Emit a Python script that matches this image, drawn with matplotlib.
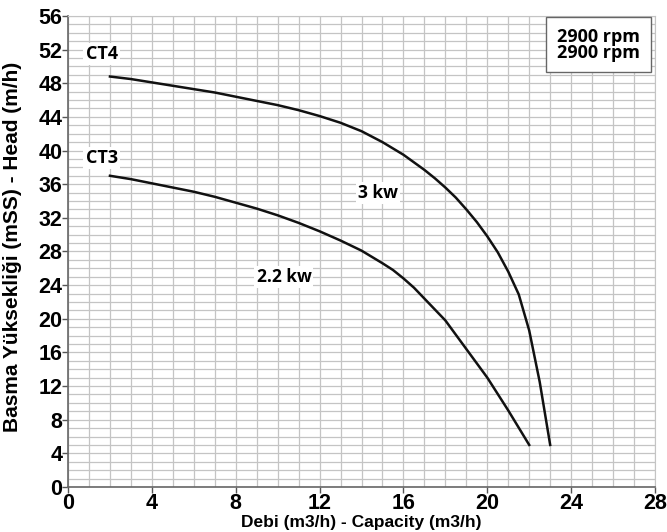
import matplotlib
matplotlib.use("Agg")
import matplotlib.pyplot as plt
from matplotlib.ticker import MultipleLocator

plt.rcParams['font.family'] = ['Liberation Sans', 'DejaVu Sans']

ct4_x = [2, 3, 4, 5, 6, 7, 8, 9, 10, 11, 12, 13, 14, 15, 16, 16.5, 17, 17.5, 18, 18.5, 19, 19.5,
         20, 20.5, 21, 21.5, 22, 22.5, 23]
ct4_y = [48.8, 48.5, 48.1, 47.7, 47.3, 46.9, 46.4, 45.9, 45.4, 44.8, 44.1, 43.3, 42.3, 41.0, 39.5,
         38.6, 37.7, 36.7, 35.6, 34.4, 33.0, 31.5, 29.8, 27.9, 25.6, 22.9, 18.6, 12.5, 5.0]
ct3_x = [2, 3, 4, 5, 6, 7, 8, 9, 10, 11, 12, 13, 14, 15, 15.5, 16, 16.5, 17, 17.5, 18, 19, 20, 21, 22]
ct3_y = [37.0, 36.6, 36.1, 35.6, 35.1, 34.5, 33.8, 33.1, 32.3, 31.4, 30.4, 29.3, 28.1, 26.6, 25.8,
         24.8, 23.7, 22.4, 21.1, 19.8, 16.4, 13.0, 9.1, 5.0]

x_ticks = [0, 4, 8, 12, 16, 20, 24, 28]
y_ticks = [0, 4, 8, 12, 16, 20, 24, 28, 32, 36, 40, 44, 48, 52, 56]

fig = plt.figure(figsize=(6.67, 5.32), dpi=100)
ax = fig.add_axes([0.102, 0.0846, 0.880, 0.8854])

ax.set_xlim(0, 28)
ax.set_ylim(0, 56)
ax.set_xticks(x_ticks)
ax.set_yticks(y_ticks)
ax.xaxis.set_minor_locator(MultipleLocator(1))
ax.yaxis.set_minor_locator(MultipleLocator(1))
ax.grid(which='both', color='#c4c4c4', linewidth=0.9)
ax.set_axisbelow(True)

ax.plot(ct4_x, ct4_y, color='#111111', linewidth=1.8, solid_joinstyle='round')
ax.plot(ct3_x, ct3_y, color='#111111', linewidth=1.8, solid_joinstyle='round')

for lab in ax.get_xticklabels() + ax.get_yticklabels():
    lab.set_fontweight('bold')
    lab.set_fontsize(15.5)
ax.tick_params(axis='both', which='major', length=4, width=1, color='#555555', pad=0)
ax.tick_params(axis='both', which='minor', length=0)

for side in ['left', 'bottom']:
    ax.spines[side].set_color('#666666')
    ax.spines[side].set_linewidth(1.2)
for side in ['top', 'right']:
    ax.spines[side].set_color('#c4c4c4')

ax.set_xlabel('Debi (m3/h) - Capacity (m3/h)', fontsize=12.5, fontweight='bold', labelpad=1)
ax.set_ylabel('Basma Yüksekliği (mSS) - Head (m/h)', fontsize=15, fontweight='bold', labelpad=2)
ax.yaxis.set_label_coords(-0.078, 0.51)

ann = ['Open Sans', 'DejaVu Sans']
bb = dict(facecolor='white', edgecolor='none', pad=1.5)
ax.text(1.6, 51.5, 'CT4', fontsize=13, fontweight='bold', family=ann, ha='center', va='center', bbox=bb)
ax.text(1.6, 39.1, 'CT3', fontsize=13, fontweight='bold', family=ann, ha='center', va='center', bbox=bb)
ax.text(14.8, 35.0, '3 kw', fontsize=12.5, fontweight='bold', family=ann, ha='center', va='center', bbox=bb)
ax.text(10.3, 25.0, '2.2 kw', fontsize=12.5, fontweight='bold', family=ann, ha='center', va='center', bbox=bb)

ax.text(0.975, 0.975, '2900 rpm\n2900 rpm', transform=ax.transAxes, fontsize=13,
        fontweight='bold', family=ann, ha='right', va='top', linespacing=0.85,
        bbox=dict(facecolor='white', edgecolor='#666666', linewidth=1.0,
                  boxstyle='square,pad=0.6'))

fig.savefig('out.png', dpi=100)
